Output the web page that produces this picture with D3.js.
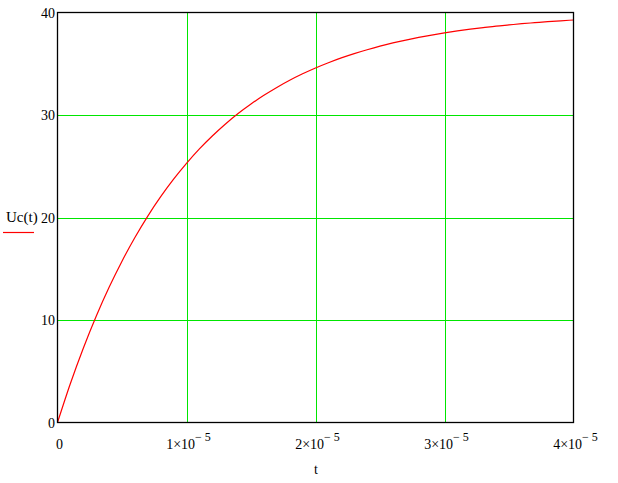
<!DOCTYPE html>
<html><head><meta charset="utf-8">
<script src="https://cdn.jsdelivr.net/npm/d3@7"></script>
<style>body{margin:0;background:#fff}svg{display:block}text{font-family:"Liberation Serif","Times New Roman",serif;fill:#000}</style>
</head><body><svg id="c" width="618" height="483"></svg>
<script>
// time (units of 1e-6 s)
const tMicro = [0,1,2,3,4,5,6,7,8,9,10,11,12,13,14,15,16,17,18,19,20,21,22,23,24,25,26,27,28,29,30,31,32,33,34,35,36,37,38,39,40];
const ucValues = [0,3.81,7.25,10.37,13.19,15.74,18.05,20.14,22.03,23.74,25.28,26.69,27.95,29.10,30.14,31.07,31.92,32.69,33.39,34.02,34.59,35.10,35.57,35.99,36.37,36.72,37.03,37.31,37.57,37.80,38.01,38.20,38.37,38.52,38.67,38.79,38.91,39.01,39.11,39.19,39.27];
const xTicks = [0,1e-5,2e-5,3e-5,4e-5];
const xTickMant = ["0","1","2","3","4"];
const yTicks = [0,10,20,30,40];
const yLabel = "Uc(t)";
const xLabel = "t";

const svg = d3.select("#c");
const L=57.5, R=573.5, T=12.5, B=422.5;
const x = d3.scaleLinear().domain([0,4e-5]).range([L,R]);
const y = d3.scaleLinear().domain([0,40]).range([B,T]);
const green = "#00e600";

// grid
svg.append("g").selectAll("line").data(xTicks.slice(1,-1)).join("line")
  .attr("x1",d=>Math.round(x(d))+0.5).attr("x2",d=>Math.round(x(d))+0.5)
  .attr("y1",T).attr("y2",B).attr("stroke",green).attr("stroke-width",1);
svg.append("g").selectAll("line").data(yTicks.slice(1,-1)).join("line")
  .attr("y1",d=>Math.round(y(d))+0.5).attr("y2",d=>Math.round(y(d))+0.5)
  .attr("x1",L).attr("x2",R).attr("stroke",green).attr("stroke-width",1);

// curve
const data = tMicro.map((t,i)=>({t:t*1e-6,v:ucValues[i]}));
svg.append("path").datum(data)
  .attr("d",d3.line().x(d=>x(d.t)).y(d=>y(d.v)).curve(d3.curveMonotoneX))
  .attr("fill","none").attr("stroke","#ff0000").attr("stroke-width",1.2);

// frame
svg.append("rect").attr("x",L).attr("y",T).attr("width",R-L).attr("height",B-T)
  .attr("fill","none").attr("stroke","#000").attr("stroke-width",1.3);

// y tick labels
svg.append("g").selectAll("text").data(yTicks).join("text")
  .attr("x",55).attr("y",d=>y(d)+5).attr("text-anchor","end")
  .attr("font-size",14).text(d=>d);

// x tick labels
const xl = svg.append("g").selectAll("text").data(xTicks).join("text")
  .attr("x",(d,i)=> i===0 ? x(d)+2 : x(d)+2).attr("y",449).attr("text-anchor","middle")
  .attr("font-size",14);
xl.each(function(d,i){
  const s=d3.select(this);
  if(i===0){ s.text("0"); return; }
  s.append("tspan").text(xTickMant[i]+"\u00d710");
  s.append("tspan").attr("dy",-8).attr("font-size",12).text("\u2212 5");
});

// axis titles
svg.append("text").attr("x",316).attr("y",474).attr("text-anchor","middle").attr("font-size",14).text(xLabel);
svg.append("text").attr("x",6).attr("y",222).attr("font-size",15).text(yLabel);
svg.append("line").attr("x1",3).attr("x2",34).attr("y1",232.5).attr("y2",232.5).attr("stroke","#ff0000").attr("stroke-width",1.2);
</script></body></html>
